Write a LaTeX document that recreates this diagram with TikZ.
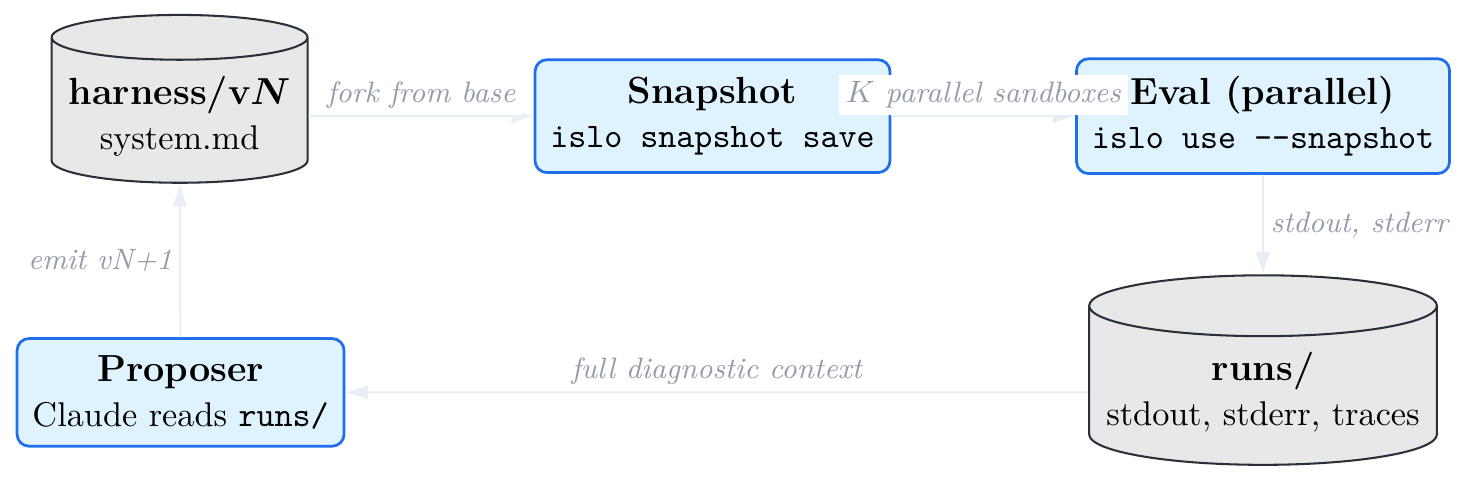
\documentclass[tikz,border=0pt]{standalone}
\usepackage{bm}
\usetikzlibrary{arrows.meta, shapes.geometric}

\definecolor{stepfill}{HTML}{DFF3FE}
\definecolor{stepline}{HTML}{1F6FEB}
\definecolor{storefill}{HTML}{E8E8E8}
\definecolor{storeline}{HTML}{2B2F3A}
\definecolor{flow}{HTML}{E8EEF4}
\definecolor{flowtext}{HTML}{959DAA}

\newcommand{\ttl}[1]{{\fontsize{11pt}{13pt}\selectfont\bfseries #1}}

\begin{document}
\begin{tikzpicture}
\useasboundingbox (0, 0) rectangle (15.04, -4.93);

\begin{scope}[every node/.style={thick,draw,align=center,font=\fontsize{10pt}{13pt}\selectfont}]
    \node (harness) at (1.84, -1.19) [shape=cylinder, shape border rotate=90, aspect=0.175,
        fill=storefill, draw=storeline, semithick, inner xsep=5pt, inner ysep=4.5pt]
        {\ttl{harness/v$\bm{N}$}\\ system.md};

    \node (snap) at (7.30, -1.19) [shape=rectangle, rounded corners=3.5pt,
        fill=stepfill, draw=stepline, inner xsep=4.5pt, inner ysep=5pt]
        {\ttl{Snapshot}\\ \texttt{islo snapshot save}};

    \node (eval) at (12.94, -1.19) [shape=rectangle, rounded corners=3.5pt,
        fill=stepfill, draw=stepline, inner xsep=4.5pt, inner ysep=5pt]
        {\ttl{Eval (parallel)}\\ \texttt{islo use --snapshot}};

    \node (runs) at (12.94, -4.02) [shape=cylinder, shape border rotate=90, aspect=0.175,
        fill=storefill, draw=storeline, semithick, inner xsep=5pt, inner ysep=4.5pt]
        {\ttl{runs/}\\ stdout, stderr, traces};

    \node (proposer) at (1.85, -4.02) [shape=rectangle, rounded corners=3.5pt,
        fill=stepfill, draw=stepline, inner xsep=4.5pt, inner ysep=5pt]
        {\ttl{Proposer}\\ Claude reads \texttt{runs/}};
\end{scope}

\begin{scope}[>={Latex[length=6.5pt,width=4.5pt]},
              every node/.style={fill=white,inner sep=2pt,text=flowtext,
                                 font=\fontsize{8.6pt}{10pt}\selectfont\itshape},
              every edge/.style={draw=flow,line width=0.6pt}]
    \path [->] (harness) edge node [above] {fork from base} (snap);
    \path [->] (snap) edge node [above] {$K$ parallel sandboxes} (eval);
    \path [->] (eval) edge node [right] {stdout, stderr} (runs);
    \path [->] (runs) edge node [above] {full diagnostic context} (proposer);
    \path [->] (proposer) edge node [left] {emit vN+1} (harness);
\end{scope}
\end{tikzpicture}
\end{document}
